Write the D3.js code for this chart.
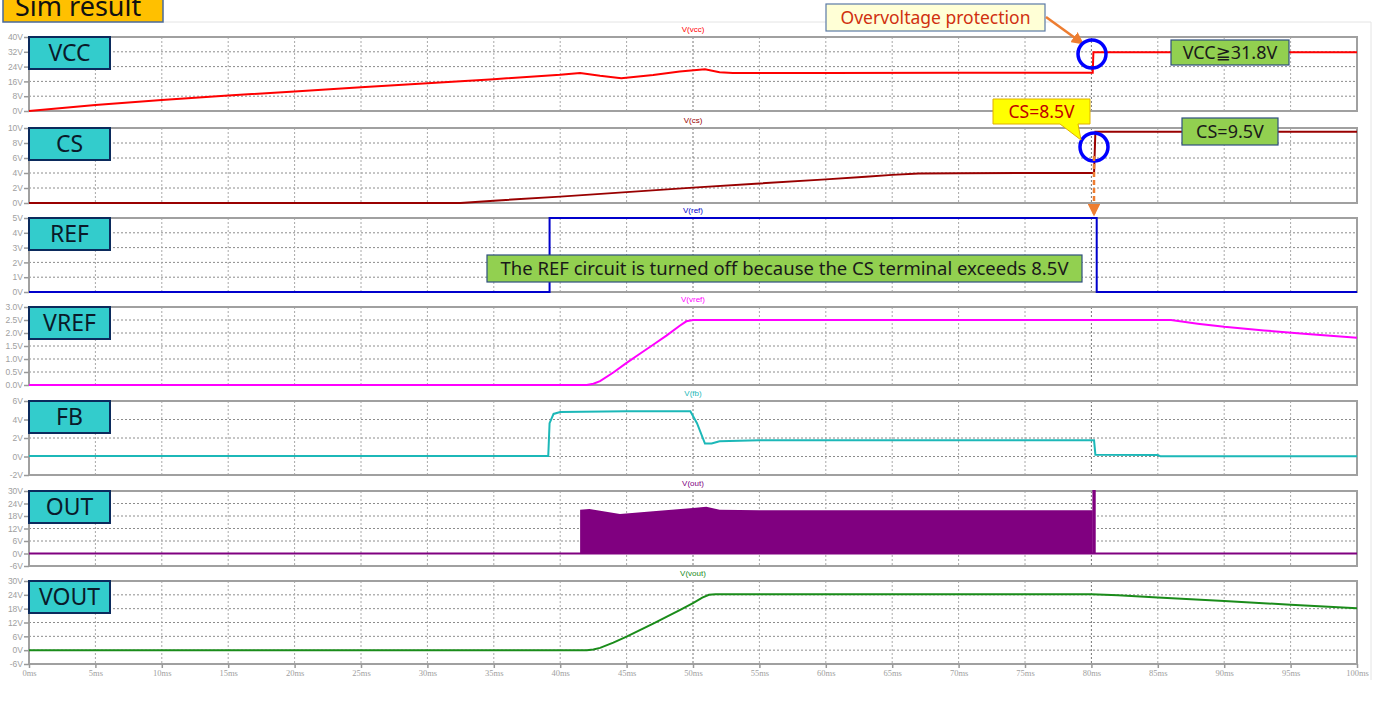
<!DOCTYPE html>
<html>
<head>
<meta charset="utf-8">
<script src="https://cdn.jsdelivr.net/npm/d3@7"></script>
<style>
  html, body { margin: 0; padding: 0; background: #ffffff; }
  svg { display: block; }
</style>
</head>
<body>
<svg id="chart" width="1377" height="704"></svg>
<script>
// ---------------- DATA ----------------
const timeTicks = [0, 5, 10, 15, 20, 25, 30, 35, 40, 45, 50, 55, 60, 65, 70, 75, 80, 85, 90, 95, 100];

const panelNames = ["VCC", "CS", "REF", "VREF", "FB", "OUT", "VOUT"];
const traceNames = ["V(vcc)", "V(cs)", "V(ref)", "V(vref)", "V(fb)", "V(out)", "V(vout)"];
const traceColors = ["#ff0000", "#990000", "#0000cc", "#ff00ff", "#1cb8b8", "#800080", "#1a8c1a"];

const vccTicks = [0, 8, 16, 24, 32, 40];
const csTicks = [0, 2, 4, 6, 8, 10];
const refTicks = [0, 1, 2, 3, 4, 5];
const vrefTicks = [0, 0.5, 1.0, 1.5, 2.0, 2.5, 3.0];
const fbTicks = [-2, 0, 2, 4, 6];
const outTicks = [-6, 0, 6, 12, 18, 24, 30];
const voutTicks = [-6, 0, 6, 12, 18, 24, 30];

// [time ms, volts]
const vccSeries = [[0,0],[5,3.2],[10,6],[15,8.4],[20,10.6],[25,12.8],[30,15],[35,17.2],[40,19.6],[41.5,20.6],[43,19],[44.6,17.7],[47,19.4],[49,21.3],[50.9,22.5],[52,21],[53,20.5],[60,20.6],[70,20.7],[80.1,20.7],[80.15,31.8],[100,31.8]];
const csSeries = [[0,0],[32.5,0],[35,0.3],[40,0.85],[45,1.45],[50,2.05],[55,2.6],[60,3.15],[63,3.5],[65,3.75],[67,3.92],[70,3.98],[80.2,4.0],[80.3,9.5],[100,9.5]];
const refSeries = [[0,0],[39.2,0],[39.2,5],[80.4,5],[80.4,0],[100,0]];
const vrefSeries = [[0,0],[42,0],[42.5,0.05],[43,0.15],[44,0.48],[45,0.85],[46,1.2],[47,1.55],[48,1.9],[49,2.28],[49.5,2.45],[50,2.5],[86,2.5],[88,2.36],[90,2.24],[93,2.1],[96,1.97],[100,1.82]];
const fbSeries = [[0,0.05],[39.1,0.05],[39.2,3.6],[39.5,4.6],[40,4.8],[45,4.9],[49.8,4.9],[50.3,3.6],[50.9,1.4],[51.4,1.4],[52,1.65],[55,1.75],[80.2,1.75],[80.3,0.2],[85,0.15],[85.2,0.02],[100,0.02]];
const outEnvelope = [[41.5,0],[41.5,21],[42.2,21.4],[44.5,19],[47,20.3],[50,21.8],[51,22.5],[52,21],[55,20.8],[80.1,20.8],[80.1,0]];
const outSeries = [[0,0],[80.15,0],[80.15,30],[80.25,30],[80.25,0],[100,0]];
const voutSeries = [[0,0],[42,0],[42.5,0.3],[43,1],[44,3.3],[45,5.9],[46,8.7],[47,11.5],[48,14.4],[49,17.4],[50,20.4],[50.7,22.8],[51.2,24],[51.7,24.3],[80,24.3],[82,23.8],[85,22.8],[90,21.3],[95,19.7],[100,18.2]];

// ---------------- LAYOUT ----------------
const svg = d3.select("#chart");
const X0 = 29, X1 = 1357;
const x = d3.scaleLinear().domain([0, 100]).range([X0, X1]);
const labelFont = "Noto Sans, DejaVu Sans, sans-serif";

const panels = [
  { top: 37,  bottom: 111, dom: [0, 40],  ticks: vccTicks,  fmt: d => d + "V",              data: vccSeries },
  { top: 128, bottom: 203, dom: [0, 10],  ticks: csTicks,   fmt: d => d + "V",              data: csSeries },
  { top: 218, bottom: 292, dom: [0, 5],   ticks: refTicks,  fmt: d => d + "V",              data: refSeries },
  { top: 307, bottom: 385, dom: [0, 3],   ticks: vrefTicks, fmt: d => d3.format(".1f")(d) + "V", data: vrefSeries },
  { top: 401, bottom: 475, dom: [-2, 6],  ticks: fbTicks,   fmt: d => d + "V",              data: fbSeries },
  { top: 491, bottom: 566, dom: [-6, 30], ticks: outTicks,  fmt: d => d + "V",              data: outSeries },
  { top: 581, bottom: 664, dom: [-6, 30], ticks: voutTicks, fmt: d => d + "V",              data: voutSeries }
];

// outer light frame of the screenshot
svg.append("line").attr("x1", 163).attr("x2", 1371).attr("y1", 22).attr("y2", 22)
  .attr("stroke", "#e4e4e4").attr("stroke-width", 1);
svg.append("line").attr("x1", 1371).attr("x2", 1371).attr("y1", 22).attr("y2", 680)
  .attr("stroke", "#e4e4e4").attr("stroke-width", 1);

panels.forEach((p, i) => {
  const y = d3.scaleLinear().domain(p.dom).range([p.bottom, p.top]);
  const g = svg.append("g");

  // horizontal grid
  g.selectAll(".hg").data(p.ticks.filter(t => t !== p.dom[0] && t !== p.dom[1]))
    .join("line")
    .attr("x1", X0).attr("x2", X1)
    .attr("y1", d => y(d)).attr("y2", d => y(d))
    .attr("stroke", "#8c8c8c").attr("stroke-width", 1).attr("stroke-dasharray", "2,2");
  // vertical grid
  g.selectAll(".vg").data(timeTicks.filter(t => t > 0 && t < 100))
    .join("line")
    .attr("x1", d => x(d)).attr("x2", d => x(d))
    .attr("y1", p.top).attr("y2", p.bottom)
    .attr("stroke", d => (d === 50 || d === 80) ? "#777" : "#a8a8a8")
    .attr("stroke-width", 1).attr("stroke-dasharray", "2,2");

  // frame (drawn below the trace)
  g.append("rect").attr("x", X0).attr("y", p.top).attr("width", X1 - X0).attr("height", p.bottom - p.top)
    .attr("fill", "none").attr("stroke", "#a0a0a0").attr("stroke-width", 2);

  // y axis
  const ax = d3.axisLeft(y).tickValues(p.ticks).tickFormat(p.fmt).tickSize(5).tickPadding(1);
  const axg = g.append("g").attr("transform", `translate(${X0},0)`).call(ax);
  axg.select(".domain").remove();
  axg.selectAll(".tick line").attr("stroke", "#999").attr("stroke-width", 1.5);
  axg.selectAll(".tick text").attr("fill", "#a0a0a0").attr("font-size", 8.5)
    .attr("font-family", "Liberation Sans, Arial, sans-serif");

  // trace
  const line = d3.line().x(d => x(d[0])).y(d => y(d[1]));
  if (i === 5) {
    const area = d3.area().x(d => x(d[0])).y0(y(0)).y1(d => y(d[1]));
    g.append("path").datum(outEnvelope).attr("d", area).attr("fill", traceColors[i]);
  }
  g.append("path").datum(p.data).attr("d", line)
    .attr("fill", "none").attr("stroke", traceColors[i]).attr("stroke-width", 2);

  // trace name
  g.append("text").attr("x", 693).attr("y", p.top - 5).attr("text-anchor", "middle")
    .attr("font-size", 8).attr("font-family", "Liberation Sans, Arial, sans-serif")
    .attr("fill", traceColors[i]).text(traceNames[i]);

  // label box
  g.append("rect").attr("x", 29).attr("y", p.top).attr("width", 81).attr("height", 32)
    .attr("fill", "#33cccc").attr("stroke", "#0b2a5c").attr("stroke-width", 2);
  g.append("text").attr("x", 69.5).attr("y", p.top + 24).attr("text-anchor", "middle")
    .attr("font-size", 23).attr("font-family", labelFont)
    .attr("fill", "#0a1a2a").text(panelNames[i]);
});

// x axis
const lastP = panels[panels.length - 1];
const xa = d3.axisBottom(x).tickValues(timeTicks).tickFormat(d => d + "ms").tickSize(4).tickPadding(2);
const xg = svg.append("g").attr("transform", `translate(0,${lastP.bottom})`).call(xa);
xg.select(".domain").remove();
xg.selectAll(".tick line").attr("stroke", "#999").attr("stroke-width", 1.5);
xg.selectAll(".tick text").attr("fill", "#a0a0a0").attr("font-size", 8.5)
  .attr("font-family", "Liberation Serif, Times New Roman, serif");

// ---------------- TITLE ----------------
svg.append("rect").attr("x", 3).attr("y", -6).attr("width", 160).attr("height", 28)
  .attr("fill", "#ffc000").attr("stroke", "#4a6a9a").attr("stroke-width", 1.5);
svg.append("text").attr("x", 15).attr("y", 16).attr("font-size", 27)
  .attr("font-family", labelFont).attr("fill", "#111").text("Sim result");

// ---------------- ANNOTATIONS ----------------
const defs = svg.append("defs");
defs.append("marker").attr("id", "arrOrange").attr("viewBox", "0 0 10 10").attr("refX", 8).attr("refY", 5)
  .attr("markerWidth", 5).attr("markerHeight", 5).attr("orient", "auto")
  .append("path").attr("d", "M0,0 L10,5 L0,10 z").attr("fill", "#ed7d31");

// Overvoltage protection
svg.append("rect").attr("x", 826).attr("y", 4).attr("width", 219).attr("height", 27)
  .attr("fill", "#ffffd6").attr("stroke", "#5a7aa6").attr("stroke-width", 1.2);
svg.append("text").attr("x", 935.5).attr("y", 23.5).attr("text-anchor", "middle").attr("font-size", 17.5)
  .attr("font-family", labelFont).attr("fill", "#d03010").text("Overvoltage protection");
svg.append("line").attr("x1", 1046).attr("y1", 17).attr("x2", 1082).attr("y2", 43)
  .attr("stroke", "#ed7d31").attr("stroke-width", 2.5).attr("marker-end", "url(#arrOrange)");

// circles
svg.append("circle").attr("cx", 1092).attr("cy", 54).attr("r", 14)
  .attr("fill", "none").attr("stroke", "#0000ff").attr("stroke-width", 3.5);
svg.append("circle").attr("cx", 1094).attr("cy", 147).attr("r", 14)
  .attr("fill", "none").attr("stroke", "#0000ff").attr("stroke-width", 3.5);

// VCC>=31.8V
svg.append("rect").attr("x", 1171).attr("y", 40).attr("width", 118).attr("height", 25)
  .attr("fill", "#92d050").attr("stroke", "#2f4f7f").attr("stroke-width", 1.2);
svg.append("text").attr("x", 1230).attr("y", 59).attr("text-anchor", "middle").attr("font-size", 18)
  .attr("font-family", labelFont).attr("fill", "#1a1a1a").text("VCC≧31.8V");

// CS=9.5V
svg.append("rect").attr("x", 1182).attr("y", 118).attr("width", 96).attr("height", 27)
  .attr("fill", "#92d050").attr("stroke", "#2f4f7f").attr("stroke-width", 1.2);
svg.append("text").attr("x", 1230).attr("y", 138).attr("text-anchor", "middle").attr("font-size", 18)
  .attr("font-family", labelFont).attr("fill", "#1a1a1a").text("CS=9.5V");

// CS=8.5V callout
svg.append("path")
  .attr("d", "M993,99 L1090,99 L1090,124 L1078,124 L1081,140 L1060,124 L993,124 Z")
  .attr("fill", "#ffff00").attr("stroke", "#e0b000").attr("stroke-width", 1);
svg.append("text").attr("x", 1041.5).attr("y", 118).attr("text-anchor", "middle").attr("font-size", 17.5)
  .attr("font-family", labelFont).attr("fill", "#c00000").text("CS=8.5V");

// orange dashed arrow down to REF
svg.append("line").attr("x1", 1094).attr("y1", 156).attr("x2", 1094).attr("y2", 214)
  .attr("stroke", "#ed7d31").attr("stroke-width", 2.5).attr("stroke-dasharray", "5,3")
  .attr("marker-end", "url(#arrOrange)");

// REF explanation
svg.append("rect").attr("x", 487).attr("y", 255).attr("width", 595).attr("height", 27)
  .attr("fill", "#92d050").attr("stroke", "#2f4f7f").attr("stroke-width", 1.2);
svg.append("text").attr("x", 784.5).attr("y", 275).attr("text-anchor", "middle").attr("font-size", 18.5)
  .attr("font-family", labelFont).attr("fill", "#1a1a1a")
  .text("The REF circuit is turned off because the CS terminal exceeds 8.5V");
</script>
</body>
</html>
